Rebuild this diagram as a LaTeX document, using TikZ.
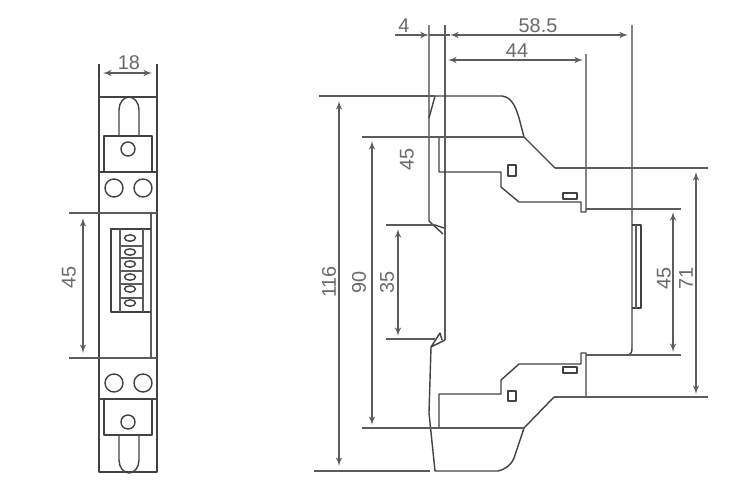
\documentclass[tikz,border=0pt]{standalone}
\usepackage{fontspec}
\setmainfont{Liberation Sans}
\usetikzlibrary{arrows}

\begin{document}
\begin{tikzpicture}[>=latex', x=0.02cm, y=-0.02cm]

\definecolor{inkgrey}{RGB}{92, 92, 92}
\definecolor{partgrey}{RGB}{66, 66, 66}
\definecolor{textgrey}{RGB}{105, 105, 105}

\useasboundingbox (0,0) rectangle (750,498);

\tikzset{
    part/.style={
        draw=partgrey, line width=0.8pt, line join=round
    },
    extline/.style={
        draw=inkgrey, line width=0.75pt
    },
    dim/.style={
        draw=inkgrey, line width=0.7pt, <->
    },
    dimtext/.style={
        text=textgrey, font=\fontsize{11.3}{13}\selectfont, inner sep=0pt
    },
    dimtextv/.style={
        dimtext, rotate=90
    }
}

% Front view
\draw[part] (99,97) -- (157,97);
\draw[part] (99,64) -- (99,472) -- (157,472) -- (157,64);
\draw[part] (119,136) -- (119,110) arc[start angle=180, end angle=360, x radius=10, y radius=13] -- (139,136);
\draw[part] (104,172) -- (104,136) -- (152,136) -- (152,172);
\draw[part] (99,172) -- (157,172);
\draw[part] (99,399) -- (157,399);
\draw[part] (104,399) -- (104,435) -- (152,435) -- (152,399);
\draw[part] (119,435) -- (119,460) arc[start angle=180, end angle=0, x radius=10, y radius=13] -- (139,435);
\draw[extline] (151,213) -- (151,358);

% Screw holes
\foreach \cx/\cy/\rad in {128/149/7, 114/188/9, 143/188/9, 114/383/9, 143/383/9, 128/422/7}
    \draw[part] (\cx,\cy) circle[radius=\rad];

% Counter window
\draw[part] (151,229) -- (111,229) -- (111,312) -- (151,312);
\draw[extline] (120,229) -- (120,312);
\draw[extline] (143,229) -- (143,312);
\foreach \cy in {238, 252, 264, 277, 289, 303}
    \draw[part] (130,\cy) ellipse[x radius=5.5, y radius=3.2];
\foreach \cy in {246, 258, 271, 284, 298}
    \draw[extline] (120,\cy) -- (143,\cy);

% Side view, upper half
\draw[part] (435,96) -- (429,118);
\draw[part] (429,25) -- (429,221) -- (443,234);
\draw[part] (435,225) -- (444,228);
\draw[extline] (445,25) -- (445,340);
\draw[part] (435,96) -- (502,96) .. controls (512,97) and (516,108) .. (519,118) -- (524,137) -- (555,168);
\draw[part] (439,137) -- (439,172) -- (501,172) -- (501,187) -- (519,202) -- (581,202) -- (581,212) -- (586,212) -- (586,54);
\draw[part] (508,165) rectangle (516,176);
\draw[part] (563,193) rectangle (577,199);

% Side view, lower half
\draw[part] (445,340) -- (431,347) -- (440,333) -- (442,340);
\draw[part] (431,347) -- (429,413) -- (435,471) -- (498,471) .. controls (506,469) and (511,465) .. (514,458) -- (524,428) -- (554,397);
\draw[part] (439,428) -- (439,394) -- (501,394) -- (501,380) -- (519,364) -- (581,364) -- (581,353) -- (586,353) -- (586,397);
\draw[part] (508,391) rectangle (516,401);
\draw[part] (563,367) rectangle (577,373);

% Right side, display cover
\draw[part] (632,25) -- (632,348) .. controls (632,352) and (631,354) .. (629,355);
\draw[part] (632,225) -- (641,225) -- (641,308) -- (632,308);
\draw[extline] (636,225) -- (636,308);

% Extension lines
\coordinate (Top) at (319,96);
\coordinate (TopEnd) at (435,96);
\coordinate (Rail) at (362,137);
\coordinate (RailEnd) at (524,137);
\coordinate (ClipA) at (386,225);
\coordinate (ClipAEnd) at (435,225);
\coordinate (ClipB) at (386,339);
\coordinate (ClipBEnd) at (435,339);
\coordinate (RailB) at (362,428);
\coordinate (RailBEnd) at (524,428);
\coordinate (Bot) at (314,471);
\coordinate (BotEnd) at (430,471);
\coordinate (ShoulderA) at (555,168);
\coordinate (ShoulderAEnd) at (708,168);
\coordinate (ShoulderB) at (554,397);
\coordinate (ShoulderBEnd) at (708,397);
\coordinate (BodyA) at (586,209);
\coordinate (BodyAEnd) at (681,209);
\coordinate (BodyB) at (586,355);
\coordinate (BodyBEnd) at (681,355);
\coordinate (FrontA) at (69,213);
\coordinate (FrontAEnd) at (157,213);
\coordinate (FrontB) at (69,358);
\coordinate (FrontBEnd) at (157,358);
\draw[extline] (Top) -- (TopEnd);
\draw[extline] (Rail) -- (RailEnd);
\draw[extline] (ClipA) -- (ClipAEnd);
\draw[extline] (ClipB) -- (ClipBEnd);
\draw[extline] (RailB) -- (RailBEnd);
\draw[extline] (Bot) -- (BotEnd);
\draw[extline] (ShoulderA) -- (ShoulderAEnd);
\draw[extline] (ShoulderB) -- (ShoulderBEnd);
\draw[extline] (BodyA) -- (BodyAEnd);
\draw[extline] (BodyB) -- (BodyBEnd);
\draw[extline] (FrontA) -- (FrontAEnd);
\draw[extline] (FrontB) -- (FrontBEnd);

% Dimension arrows
\coordinate (W18a) at (103,73);
\coordinate (W18b) at (152,73);
\coordinate (H45a) at (83,218);
\coordinate (H45b) at (83,353);
\coordinate (W4a) at (395,35);
\coordinate (W4b) at (429,35);
\coordinate (W58a) at (450,35);
\coordinate (W58b) at (628,35);
\coordinate (W44a) at (448,60);
\coordinate (W44b) at (583,60);
\coordinate (H116a) at (339,101);
\coordinate (H116b) at (339,466);
\coordinate (H90a) at (372,141);
\coordinate (H90b) at (372,425);
\coordinate (H35a) at (398,229);
\coordinate (H35b) at (398,336);
\coordinate (H45ra) at (673,212);
\coordinate (H45rb) at (673,352);
\coordinate (H71a) at (696,172);
\coordinate (H71b) at (696,394);
\draw[dim] (W18a) -- (W18b);
\draw[dim] (H45a) -- (H45b);
\draw[extline, ->] (W4a) -- (W4b);
\draw[extline] (W4b) -- (W58a);
\draw[dim] (W58a) -- (W58b);
\draw[dim] (W44a) -- (W44b);
\draw[dim] (H116a) -- (H116b);
\draw[dim] (H90a) -- (H90b);
\draw[dim] (H35a) -- (H35b);
\draw[dim] (H45ra) -- (H45rb);
\draw[dim] (H71a) -- (H71b);

% Labels
\node[dimtext] (L18) at (129,63) {18};
\node[dimtextv] (L45a) at (69,277) {45};
\node[dimtext] (L4) at (404,26) {4};
\node[dimtext] (L58) at (538,26) {58.5};
\node[dimtext] (L44) at (517,51) {44};
\node[dimtextv] (L116) at (329,282) {116};
\node[dimtextv] (L90) at (359,282) {90};
\node[dimtextv] (L35) at (387,282) {35};
\node[dimtextv] (L45b) at (407,159) {45};
\node[dimtextv] (L45c) at (664,278) {45};
\node[dimtextv] (L71) at (686,278) {71};

\end{tikzpicture}
\end{document}
